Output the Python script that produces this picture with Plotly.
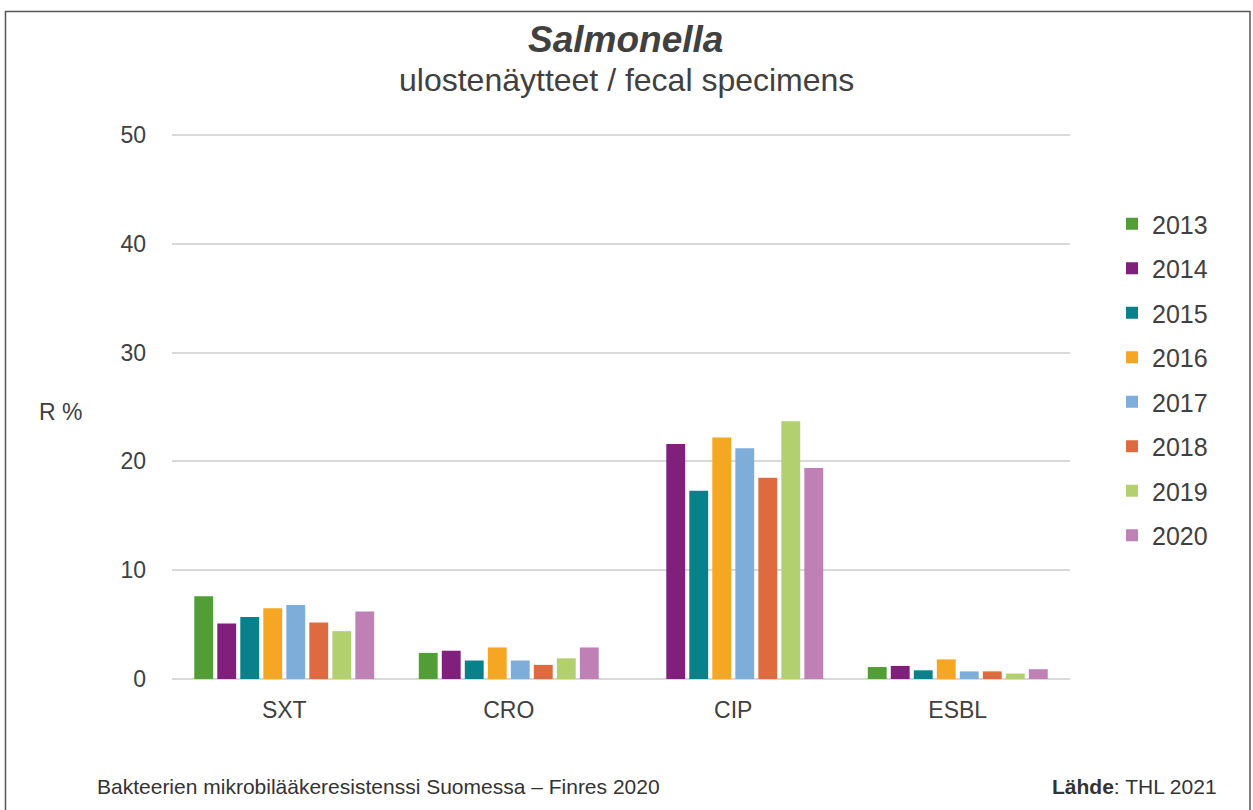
import plotly.graph_objects as go

categories = ["SXT", "CRO", "CIP", "ESBL"]
years = ["2013", "2014", "2015", "2016", "2017", "2018", "2019", "2020"]
values = {
    "2013": [7.6, 2.4, None, 1.1],
    "2014": [5.1, 2.6, 21.6, 1.2],
    "2015": [5.7, 1.7, 17.3, 0.8],
    "2016": [6.5, 2.9, 22.2, 1.8],
    "2017": [6.8, 1.7, 21.2, 0.7],
    "2018": [5.2, 1.3, 18.5, 0.7],
    "2019": [4.4, 1.9, 23.7, 0.5],
    "2020": [6.2, 2.9, 19.4, 0.9],
}
colors = ["#519E36", "#801F7C", "#08818B", "#F5A623", "#7EADDA", "#DE6B40", "#B3D06F", "#BE80B5"]
y_ticks = [0, 10, 20, 30, 40, 50]

W, H = 1253, 810
L, R, T, B = 172, 1070, 132, 679
Y_TOP = 50 + (135 - T) / ((B - 135) / 50)

def px_x(p):
    return (p - L) / (R - L)

def px_y(p):
    return (B - p) / (B - T)

fig = go.Figure()
for yr, col in zip(years, colors):
    fig.add_trace(go.Bar(
        x=categories, y=values[yr], name=yr, marker_color=col,
        marker_line_width=0, legendgroup=yr,
    ))

FONT = "Liberation Sans, Arial, sans-serif"
TXT = "#404040"

fig.update_layout(
    width=W, height=H,
    margin=dict(l=L, r=W - R, t=T, b=H - B, autoexpand=False),
    paper_bgcolor="white", plot_bgcolor="white",
    barmode="group", bargap=0.18, bargroupgap=0.18,
    font=dict(family=FONT, size=23, color=TXT),
    showlegend=True,
    legend=dict(
        x=px_x(1112), y=px_y(201), xanchor="left", yanchor="top",
        font=dict(size=25, color=TXT), tracegroupgap=9,
        bgcolor="rgba(0,0,0,0)", itemwidth=30,
    ),
    xaxis=dict(
        showgrid=False, showline=False, ticks="", tickfont=dict(size=23, color=TXT),
        ticklabelstandoff=15,
    ),
    yaxis=dict(
        range=[0, Y_TOP], tickvals=y_ticks, showgrid=True, gridcolor="#D9D9D9",
        gridwidth=2, zeroline=True, zerolinecolor="#D9D9D9", zerolinewidth=2,
        showline=False, ticks="", tickfont=dict(size=23, color=TXT),
        ticklabelstandoff=25,
    ),
)

annotations = [
    dict(text="<b><i>Salmonella</i></b>", x=px_x(625), y=px_y(40), font=dict(size=37, color=TXT)),
    dict(text="ulostenäytteet / fecal specimens", x=px_x(626), y=px_y(80), font=dict(size=32, color=TXT)),
    dict(text="R %", x=px_x(60), y=px_y(412), font=dict(size=23, color=TXT)),
]
for a in annotations:
    a.update(xref="paper", yref="paper", xanchor="center", yanchor="middle", showarrow=False)
    fig.add_annotation(**a)

fig.add_annotation(text="Bakteerien mikrobilääkeresistenssi Suomessa – Finres 2020",
                   x=px_x(95), y=px_y(786), xref="paper", yref="paper",
                   xanchor="left", yanchor="middle", showarrow=False,
                   font=dict(size=21, color="#333333"))
fig.add_annotation(text="<b>Lähde</b>: THL 2021",
                   x=px_x(1219), y=px_y(786), xref="paper", yref="paper",
                   xanchor="right", yanchor="middle", showarrow=False,
                   font=dict(size=21, color="#333333"))

fig.add_shape(type="rect", xref="paper", yref="paper",
              x0=px_x(5.5), x1=px_x(1250), y0=px_y(830), y1=px_y(11.5),
              line=dict(color="#555555", width=1.5), fillcolor="rgba(0,0,0,0)", layer="above")

fig.write_html("out.html")
